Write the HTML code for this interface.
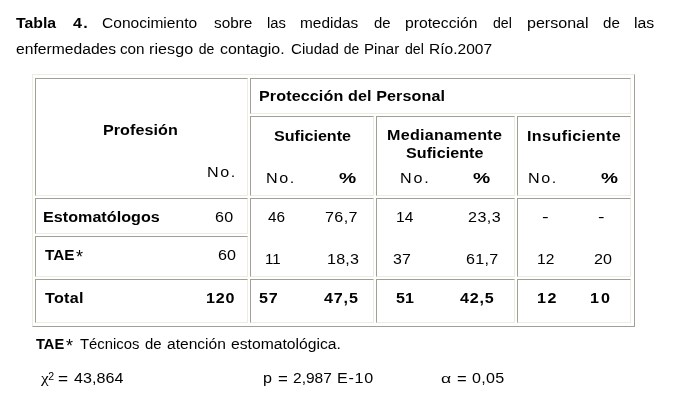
<!DOCTYPE html>
<html><head><meta charset="utf-8"><title>Tabla 4</title>
<style>
html,body{margin:0;padding:0;background:#fff;}
body{width:687px;height:400px;position:relative;overflow:hidden;font-family:"Liberation Sans",sans-serif;font-size:14px;color:#000;}
span{position:absolute;white-space:pre;line-height:16px;height:16px;transform-origin:0 0;}
#txt{position:absolute;left:0;top:0;width:687px;height:400px;filter:grayscale(1);}
.b{font-weight:bold;}
.c{position:absolute;border:1px solid;box-sizing:content-box;}
</style></head><body>
<div class="c" style="left:32px;top:74px;width:601px;height:251px;border-color:#edece1 #a1a097 #a1a097 #edece1;"></div>
<div class="c" style="left:35px;top:78px;width:211px;height:116px;border-color:#a1a097 #edece1 #edece1 #a1a097;"></div>
<div class="c" style="left:250px;top:78px;width:379px;height:34px;border-color:#a1a097 #edece1 #edece1 #a1a097;"></div>
<div class="c" style="left:250px;top:116px;width:122px;height:78px;border-color:#a1a097 #edece1 #edece1 #a1a097;"></div>
<div class="c" style="left:376px;top:116px;width:137px;height:78px;border-color:#a1a097 #edece1 #edece1 #a1a097;"></div>
<div class="c" style="left:517px;top:116px;width:112px;height:78px;border-color:#a1a097 #edece1 #edece1 #a1a097;"></div>
<div class="c" style="left:35px;top:198px;width:211px;height:34px;border-color:#a1a097 #edece1 #edece1 #a1a097;"></div>
<div class="c" style="left:35px;top:236px;width:211px;height:39px;border-color:#a1a097 #edece1 #edece1 #a1a097;"></div>
<div class="c" style="left:250px;top:198px;width:122px;height:77px;border-color:#a1a097 #edece1 #edece1 #a1a097;"></div>
<div class="c" style="left:376px;top:198px;width:137px;height:77px;border-color:#a1a097 #edece1 #edece1 #a1a097;"></div>
<div class="c" style="left:517px;top:198px;width:112px;height:77px;border-color:#a1a097 #edece1 #edece1 #a1a097;"></div>
<div class="c" style="left:35px;top:279px;width:211px;height:42px;border-color:#a1a097 #edece1 #edece1 #a1a097;"></div>
<div class="c" style="left:250px;top:279px;width:122px;height:42px;border-color:#a1a097 #edece1 #edece1 #a1a097;"></div>
<div class="c" style="left:376px;top:279px;width:137px;height:42px;border-color:#a1a097 #edece1 #edece1 #a1a097;"></div>
<div class="c" style="left:517px;top:279px;width:112px;height:42px;border-color:#a1a097 #edece1 #edece1 #a1a097;"></div>
<div id="txt">
<span class="b" style="left:16.00px;top:15px;transform:scaleX(1.130);">Tabla</span>
<span class="b" style="left:72.50px;top:15px;letter-spacing:1.15px;transform:scaleX(1.150);">4.</span>
<span style="left:101.77px;top:15px;transform:scaleX(1.111);">Conocimiento</span>
<span style="left:213.51px;top:15px;transform:scaleX(1.095);">sobre</span>
<span style="left:266.58px;top:15px;transform:scaleX(1.055);">las</span>
<span style="left:300.29px;top:15px;transform:scaleX(1.100);">medidas</span>
<span style="left:374.03px;top:15px;transform:scaleX(1.064);">de</span>
<span style="left:405.27px;top:15px;transform:scaleX(1.124);">protección</span>
<span style="left:493.31px;top:15px;transform:scaleX(1.010);">del</span>
<span style="left:527.00px;top:15px;transform:scaleX(1.146);">personal</span>
<span style="left:602.53px;top:15px;transform:scaleX(1.081);">de</span>
<span style="left:634.01px;top:15px;transform:scaleX(1.131);">las</span>
<span style="left:15.81px;top:41px;transform:scaleX(1.119);">enfermedades</span>
<span style="left:120.02px;top:41px;transform:scaleX(1.089);">con</span>
<span style="left:148.99px;top:41px;letter-spacing:0.05px;transform:scaleX(1.150);">riesgo</span>
<span style="left:198.81px;top:41px;">de</span>
<span style="left:220.00px;top:41px;transform:scaleX(1.138);">contagio.</span>
<span style="left:290.54px;top:41px;transform:scaleX(1.078);">Ciudad</span>
<span style="left:343.81px;top:41px;">de</span>
<span style="left:364.32px;top:41px;transform:scaleX(1.079);">Pinar</span>
<span style="left:404.56px;top:41px;transform:scaleX(1.010);">del</span>
<span style="left:428.79px;top:41px;transform:scaleX(1.110);">Río.2007</span>
<span class="b" style="left:258.59px;top:88px;letter-spacing:0.10px;transform:scaleX(1.150);">Protección del Personal</span>
<span class="b" style="left:103.39px;top:122px;letter-spacing:0.05px;transform:scaleX(1.150);">Profesión</span>
<span style="left:207.04px;top:164px;letter-spacing:1.42px;transform:scaleX(1.150);">No.</span>
<span class="b" style="left:273.65px;top:128px;letter-spacing:0.01px;transform:scaleX(1.150);">Suficiente</span>
<span class="b" style="left:387.49px;top:127px;letter-spacing:0.24px;transform:scaleX(1.150);">Medianamente</span>
<span class="b" style="left:406.35px;top:145px;letter-spacing:0.05px;transform:scaleX(1.150);">Suficiente</span>
<span class="b" style="left:526.99px;top:128px;letter-spacing:0.34px;transform:scaleX(1.150);">Insuficiente</span>
<span style="left:266.24px;top:170px;letter-spacing:1.37px;transform:scaleX(1.150);">No.</span>
<span class="b" style="left:338.50px;top:170px;transform:scaleX(1.380);">%</span>
<span style="left:400.14px;top:170px;letter-spacing:1.59px;transform:scaleX(1.150);">No.</span>
<span class="b" style="left:472.70px;top:170px;transform:scaleX(1.380);">%</span>
<span style="left:528.14px;top:170px;letter-spacing:1.42px;transform:scaleX(1.150);">No.</span>
<span class="b" style="left:600.70px;top:170px;transform:scaleX(1.363);">%</span>
<span class="b" style="left:43.39px;top:209px;letter-spacing:0.03px;transform:scaleX(1.150);">Estomatólogos</span>
<span style="left:214.65px;top:209px;letter-spacing:0.30px;transform:scaleX(1.150);">60</span>
<span style="left:267.76px;top:209px;transform:scaleX(1.096);">46</span>
<span style="left:324.95px;top:209px;letter-spacing:0.34px;transform:scaleX(1.150);">76,7</span>
<span style="left:395.83px;top:209px;transform:scaleX(1.108);">14</span>
<span style="left:467.75px;top:209px;letter-spacing:0.37px;transform:scaleX(1.150);">23,3</span>
<span style="left:542.08px;top:209px;transform:scaleX(1.425);">-</span>
<span style="left:598.19px;top:209px;transform:scaleX(1.398);">-</span>
<span class="b" style="left:45.10px;top:247px;transform:scaleX(1.091);">TAE</span>
<span style="left:217.65px;top:247px;letter-spacing:0.13px;transform:scaleX(1.150);">60</span>
<span style="left:264.96px;top:251px;transform:scaleX(1.077);">11</span>
<span style="left:327.29px;top:251px;letter-spacing:0.18px;transform:scaleX(1.150);">18,3</span>
<span style="left:393.30px;top:251px;transform:scaleX(1.140);">37</span>
<span style="left:465.85px;top:251px;letter-spacing:0.22px;transform:scaleX(1.150);">61,7</span>
<span style="left:536.83px;top:251px;transform:scaleX(1.111);">12</span>
<span style="left:593.85px;top:251px;letter-spacing:0.13px;transform:scaleX(1.150);">20</span>
<span class="b" style="left:45.40px;top:290px;letter-spacing:0.26px;transform:scaleX(1.150);">Total</span>
<span class="b" style="left:205.79px;top:290px;letter-spacing:0.65px;transform:scaleX(1.150);">120</span>
<span class="b" style="left:259.45px;top:290px;letter-spacing:0.69px;transform:scaleX(1.150);">57</span>
<span class="b" style="left:323.90px;top:290px;letter-spacing:0.74px;transform:scaleX(1.150);">47,5</span>
<span class="b" style="left:395.55px;top:290px;transform:scaleX(1.146);">51</span>
<span class="b" style="left:460.10px;top:290px;letter-spacing:0.66px;transform:scaleX(1.150);">42,5</span>
<span class="b" style="left:536.59px;top:290px;letter-spacing:1.30px;transform:scaleX(1.150);">12</span>
<span class="b" style="left:590.39px;top:290px;letter-spacing:1.78px;transform:scaleX(1.150);">10</span>
<span class="b" style="left:36.20px;top:336px;transform:scaleX(1.045);">TAE</span>
<span style="left:79.77px;top:336px;transform:scaleX(1.061);">Técnicos</span>
<span style="left:145.28px;top:336px;transform:scaleX(1.064);">de</span>
<span style="left:167.01px;top:336px;transform:scaleX(1.112);">atención</span>
<span style="left:230.76px;top:336px;transform:scaleX(1.121);">estomatológica.</span>
<span style="left:58.19px;top:371px;transform:scaleX(1.229);">=</span>
<span style="left:73.55px;top:370px;letter-spacing:0.02px;transform:scaleX(1.150);">43,864</span>
<span style="left:262.79px;top:370px;transform:scaleX(1.151);">p</span>
<span style="left:278.21px;top:371px;transform:scaleX(1.200);">=</span>
<span style="left:293.07px;top:370px;transform:scaleX(1.108);">2,987</span>
<span style="left:336.74px;top:370px;letter-spacing:0.62px;transform:scaleX(1.150);">E-10</span>
<span style="left:457.22px;top:371px;transform:scaleX(1.186);">=</span>
<span style="left:471.50px;top:370px;letter-spacing:0.24px;transform:scaleX(1.150);">0,05</span>
<span style="left:76px;top:249px;font-size:18px;">*</span>
<span style="left:66px;top:338px;font-size:18px;">*</span>
<span style="left:41px;top:370px;font-size:15px;font-family:'Liberation Serif',serif;transform:scaleX(1.15);">χ</span>
<span style="left:48.3px;top:367.6px;font-size:10.5px;">2</span>
<span style="left:441.4px;top:371px;font-size:12.5px;transform:scaleX(1.4);">α</span>
</div>
</body></html>
